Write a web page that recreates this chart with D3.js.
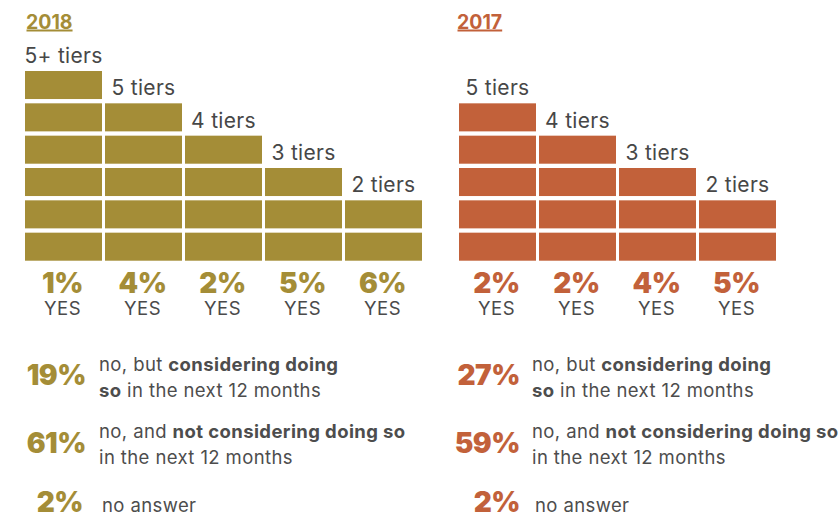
<!DOCTYPE html>
<html>
<head>
<meta charset="utf-8">
<script src="https://cdn.jsdelivr.net/npm/d3@7"></script>
<style>
  html, body { margin: 0; padding: 0; background: #fff; }
  svg { display: block; font-family: Inter, Lato, sans-serif; }
  .tier { fill: #474747; font-size: 21px; letter-spacing: 0.3px; }
  .pct { font-weight: 900; font-size: 28px; letter-spacing: -0.5px; }
  .yes { fill: #4a4a4a; font-size: 18.5px; letter-spacing: 0.5px; }
  .desc { fill: #4d4d4d; font-size: 18.5px; letter-spacing: 0.4px; }
  .desc .b { font-weight: 700; }
</style>
</head>
<body>
<div id="chart"></div>
<script>
const years = ["2018", "2017"];
const tiers2018 = ["5+ tiers", "5 tiers", "4 tiers", "3 tiers", "2 tiers"];
const blocks2018 = [6, 5, 4, 3, 2];
const yes2018 = [1, 4, 2, 5, 6];
const tiers2017 = ["5 tiers", "4 tiers", "3 tiers", "2 tiers"];
const blocks2017 = [5, 4, 3, 2];
const yes2017 = [2, 2, 4, 5];
const considering = [19, 27];
const notConsidering = [61, 59];
const noAnswer = [2, 2];

const width = 838, height = 517;
const colors = ["#a48d37", "#c2613a"];

const svg = d3.select("#chart").append("svg")
  .attr("width", width)
  .attr("height", height);

const y = d3.scaleLinear().domain([0, 6]).range([265, 71]);
const rowGap = 4.3;

const panels = [
  { year: years[0], tiers: tiers2018, blocks: blocks2018, yes: yes2018, left: 25, titleX: 26,
    color: colors[0], pctRight: 86, textLeft: 99 },
  { year: years[1], tiers: tiers2017, blocks: blocks2017, yes: yes2017, left: 459, titleX: 457,
    color: colors[1], pctRight: 520, textLeft: 532 }
];

panels.forEach((p, pi) => {
  const g = svg.append("g");
  const n = p.tiers.length;
  const x = d3.scaleBand()
    .domain(d3.range(n))
    .range([p.left, p.left + n * 80 - 3])
    .paddingInner(3 / 80)
    .paddingOuter(0);

  // title, underlined
  const title = g.append("text")
    .attr("x", p.titleX)
    .attr("y", 28.5)
    .attr("fill", p.color)
    .style("font-size", "19.5px")
    .style("font-weight", 700)
    .text(p.year);
  const tw = title.node().getComputedTextLength();
  g.append("rect")
    .attr("x", p.titleX + 0.5)
    .attr("y", 29.5)
    .attr("width", tw - 0.5)
    .attr("height", 2)
    .attr("fill", p.color);

  // bricks
  const cols = g.selectAll(".col")
    .data(p.blocks.map((b, i) => ({ i, b, tier: p.tiers[i], yes: p.yes[i] })))
    .join("g")
    .attr("class", "col");

  cols.selectAll("rect")
    .data(d => d3.range(d.b).map(k => ({ i: d.i, k })))
    .join("rect")
    .attr("x", d => x(d.i))
    .attr("width", x.bandwidth())
    .attr("y", d => y(d.k + 1))
    .attr("height", d => y(d.k) - y(d.k + 1) - rowGap)
    .attr("fill", p.color);

  cols.append("text")
    .attr("class", "tier")
    .attr("x", d => x(d.i) + x.bandwidth() / 2)
    .attr("y", d => y(d.b) - 8)
    .attr("text-anchor", "middle")
    .text(d => d.tier);

  cols.append("text")
    .attr("class", "pct")
    .attr("x", d => x(d.i) + x.bandwidth() / 2 - 1)
    .attr("y", 292.5)
    .attr("text-anchor", "middle")
    .attr("fill", p.color)
    .text(d => d.yes + "%");

  cols.append("text")
    .attr("class", "yes")
    .attr("x", d => x(d.i) + x.bandwidth() / 2 - 1)
    .attr("y", 315)
    .attr("text-anchor", "middle")
    .text("YES");

  // "no" answers
  const rows = [
    { v: considering[pi], base: 385, lineTop: 370.7, tl: 0, pr: 0, lines: [
        [["no, but ", false], ["considering doing", true]],
        [["so", true], [" in the next 12 months", false]]
      ] },
    { v: notConsidering[pi], base: 452.7, lineTop: 438.3, tl: 0, pr: 0, lines: [
        [["no, and ", false], ["not considering doing so", true]],
        [["in the next 12 months", false]]
      ] },
    { v: noAnswer[pi], base: 511.5, lineTop: 511.5, tl: 3, pr: pi === 0 ? -3 : 0, lines: [
        [["no answer", false]]
      ] }
  ];

  rows.forEach(r => {
    g.append("text")
      .attr("class", "pct")
      .attr("x", p.pctRight + r.pr)
      .attr("y", r.base)
      .attr("text-anchor", "end")
      .attr("fill", p.color)
      .text(r.v + "%");

    const t = g.append("text").attr("class", "desc");
    r.lines.forEach((line, li) => {
      line.forEach((seg, si) => {
        const ts = t.append("tspan")
          .attr("class", seg[1] ? "b" : null)
          .text(seg[0]);
        if (si === 0) {
          ts.attr("x", p.textLeft + r.tl).attr("y", r.lineTop + li * 25.8);
        }
      });
    });
  });
});
</script>
</body>
</html>
